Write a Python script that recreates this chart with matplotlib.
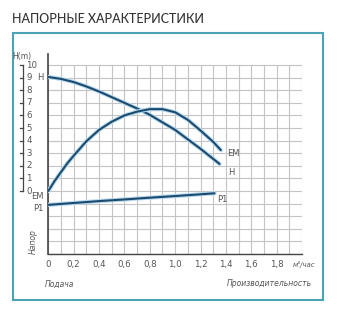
import matplotlib
matplotlib.use("Agg")
import matplotlib.pyplot as plt
import matplotlib.patheffects as pe
from matplotlib.patches import Rectangle
from matplotlib.transforms import blended_transform_factory

TITLE = "НАПОРНЫЕ ХАРАКТЕРИСТИКИ"

# head curve H (m) vs flow (m3/h)
Q_H = [0, 0.1, 0.2, 0.3, 0.4, 0.5, 0.6, 0.7, 0.8, 0.9, 1.0, 1.1, 1.2, 1.3, 1.35]
H = [9.05, 8.9, 8.65, 8.3, 7.9, 7.45, 7.0, 6.55, 6.05, 5.45, 4.85, 4.1, 3.35, 2.55, 2.15]

# efficiency curve EM
Q_EM = [0, 0.05, 0.1, 0.15, 0.2, 0.3, 0.4, 0.5, 0.6, 0.7, 0.8, 0.9, 1.0, 1.1, 1.2, 1.3, 1.36]
EM = [0, 0.8, 1.5, 2.2, 2.8, 3.95, 4.85, 5.5, 6.0, 6.3, 6.5, 6.5, 6.25, 5.65, 4.8, 3.9, 3.25]

# power curve P1
Q_P1 = [0, 0.2, 0.4, 0.6, 0.8, 1.0, 1.2, 1.31]
P1 = [-1.1, -0.95, -0.8, -0.67, -0.53, -0.4, -0.26, -0.18]

X_TICKS = [0, 0.2, 0.4, 0.6, 0.8, 1.0, 1.2, 1.4, 1.6, 1.8]
X_LABELS = ["0", "0,2", "0,4", "0,6", "0,8", "1,0", "1,2", "1,4", "1,6", "1,8"]
Y_TICKS = list(range(0, 11))

LINE = "#1d4a6d"
HALO = "#b4d9ee"
GRID = "#c4c4c4"
TXT = "#555555"
BORDER = "#4aa3b5"

W, HGT = 343, 320
fig = plt.figure(figsize=(W / 100, HGT / 100), dpi=100)


def px(x, y):
    return x / W, 1 - y / HGT


# frame
fig.patches.append(Rectangle(px(13, 300), 310 / W, 267 / HGT, transform=fig.transFigure,
                             fill=False, edgecolor=BORDER, linewidth=1.5))

fig.text(*px(12, 19), TITLE, fontsize=9, color="#333333", va="center", ha="left",
         family=["Lato", "DejaVu Sans"], weight="medium")

ax = fig.add_axes([48.3 / W, (HGT - 254) / HGT, (302 - 48.3) / W, (254 - 53.7) / HGT])
ax.set_xlim(0, 2.0)
ax.set_ylim(-5, 10.9)

# grid
for i in range(21):
    ax.vlines(i * 0.1, -5, 10, color=GRID, linewidth=0.8, zorder=1)
for j in range(-5, 11):
    ax.hlines(j, 0, 2.0, color=GRID, linewidth=0.8, zorder=1)

for s in ["top", "right"]:
    ax.spines[s].set_visible(False)
ax.spines["left"].set_color("#444444")
ax.spines["bottom"].set_color("#444444")
ax.spines["left"].set_linewidth(1.2)
ax.spines["bottom"].set_linewidth(1.0)

ax.set_xticks(X_TICKS)
ax.set_xticklabels(X_LABELS, fontsize=6.2, color=TXT)
ax.tick_params(axis="x", length=0, pad=4)
ax.set_yticks([])

effects = [pe.Stroke(linewidth=3.0, foreground=HALO), pe.Normal()]
for q, v in [(Q_H, H), (Q_EM, EM), (Q_P1, P1)]:
    ax.plot(q, v, color=LINE, linewidth=1.5, solid_capstyle="round",
            solid_joinstyle="round", path_effects=effects, zorder=3)

# custom y scale to the left of the grid
tr = blended_transform_factory(ax.transAxes, ax.transData)
span = 302 - 48.3
bx = (23 - 48.3) / span
tk = (20 - 48.3) / span
lx = (26.5 - 48.3) / span
ax.plot([bx, bx], [0, 10], color="#444444", linewidth=0.9, transform=tr, clip_on=False)
for y in Y_TICKS:
    ax.plot([tk, bx], [y, y], color="#444444", linewidth=0.9, transform=tr, clip_on=False)
    ax.text(lx, y, str(y), transform=tr, fontsize=6.2, color=TXT, ha="left", va="center")

# curve labels
lab = dict(fontsize=6, color=TXT, va="center")
ax.text(-0.035, 9.05, "H", ha="right", **lab)
ax.text(-0.035, -0.45, "EM", ha="right", **lab)
ax.text(-0.035, -1.35, "P1", ha="right", **lab)
ax.text(1.41, 3.0, "EM", ha="left", **lab)
ax.text(1.42, 1.5, "H", ha="left", **lab)
ax.text(1.33, -0.7, "P1", ha="left", **lab)

ax.text(2.016, -5.55, "м³/час", ha="center", va="top", fontsize=5, color=TXT,
        style="italic")

fig.text(*px(22, 56), "H(m)", fontsize=5.5, color=TXT, ha="center", va="center")
fig.text(*px(33, 242), "Напор", fontsize=5.5, color=TXT, ha="center", va="center",
         rotation=90, style="italic")
fig.text(*px(45, 284), "Подача", fontsize=5.5, color=TXT, ha="left", va="center",
         style="italic")
fig.text(*px(312, 284), "Производительность", fontsize=5.5, color=TXT, ha="right",
         va="center", style="italic")

fig.savefig("out.png", dpi=100)
